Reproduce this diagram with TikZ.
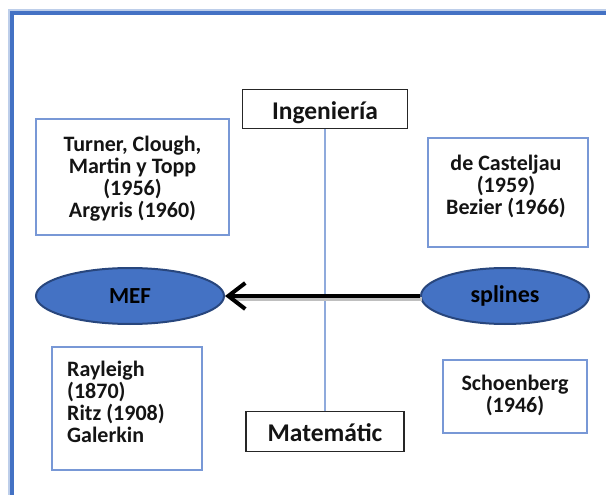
\documentclass[tikz,border=0pt]{standalone}
\usepackage{fontspec}
\setmainfont{Carlito}
\usetikzlibrary{arrows.meta,shapes.geometric}
\definecolor{frameblue}{RGB}{68,114,196}
\definecolor{boxblue}{RGB}{120,152,214}
\definecolor{ellborder}{RGB}{40,70,125}
\definecolor{ellfill}{RGB}{68,114,196}
\definecolor{axisblue}{RGB}{143,170,220}
\begin{document}
\begin{tikzpicture}[x=1pt,y=-1pt,
  txt/.style={font=\bfseries\fontsize{22}{22}\selectfont, align=center, inner sep=0pt, text=black!92},
  labtxt/.style={font=\bfseries\fontsize{25.5}{26}\selectfont, inner sep=0pt, text=black!92},
  infobox/.style={draw=boxblue, line width=1.2pt, inner sep=0pt},
  labbox/.style={draw=black!85, line width=1.6pt, inner sep=0pt},
  ell/.style={ellipse, draw=ellborder, line width=2pt, fill=ellfill, inner sep=0pt, text=black}]
\useasboundingbox (0,0) rectangle (606,495);
\clip (0,0) rectangle (606,495);
% outer frame
\draw[frameblue!35, line width=6pt] (620,12) -- (11,12) -- (11,510);
\draw[frameblue, line width=3.5pt] (620,13) -- (12,13) -- (12,510);
% axis boxes
\node[labbox, minimum width=165pt, minimum height=39pt] (ing) at (325,109) {};
\node[labtxt, anchor=base] (ingt) at (325,120) {Ingeniería};
\node[labbox, minimum width=158pt, minimum height=40pt] (mat) at (325,431.5) {};
\node[labtxt, anchor=base] (matt) at (325,441) {Matemátic};
\draw[axisblue, line width=1.5pt] (ing.south) -- (mat.north);
% info boxes
\node[infobox, minimum width=193pt, minimum height=116pt] (tl) at (132.5,177) {};
\node[txt] (tlt) at (132.5,179) {Turner, Clough,\\Martin y Topp\\(1956)\\Argyris (1960)};
\node[infobox, minimum width=160pt, minimum height=109pt] (tr) at (508,192.5) {};
\node[txt] (trt) at (506,186) {de Casteljau\\(1959)\\Bezier (1966)};
\node[infobox, minimum width=150pt, minimum height=123pt] (bl) at (127,408.5) {};
\node[txt, align=left, anchor=west] (blt) at (67,402) {Rayleigh\\(1870)\\Ritz (1908)\\Galerkin};
\node[infobox, minimum width=144pt, minimum height=73pt] (br) at (515,396.5) {};
\node[txt] (brt) at (515,395) {Schoenberg\\(1946)};
% ellipses
\node[ell, minimum width=188pt, minimum height=56pt, font=\bfseries\fontsize{23}{24}\selectfont] (mef) at (130,296) {MEF};
\node[ell, minimum width=168pt, minimum height=56pt, font=\bfseries\fontsize{24}{24}\selectfont] (spl) at (505,296) {splines};
% arrow
\draw[black!25, line width=4pt, transform canvas={shift={(1.5pt,-3pt)}}] (spl.west) -- ([xshift=8pt]mef.east);
\draw[black, line width=4pt, -{Straight Barb[length=17pt,width=26pt,line width=4pt]}] (spl.west) -- (mef.east);
\end{tikzpicture}
\end{document}
